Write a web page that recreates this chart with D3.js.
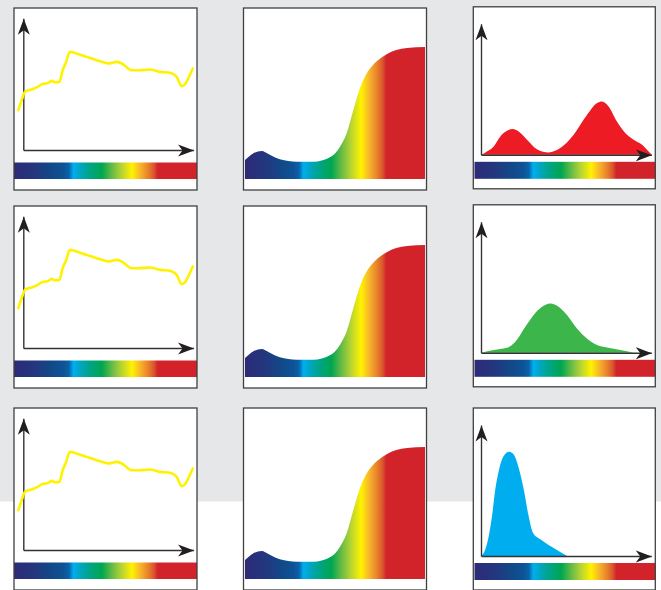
<!DOCTYPE html>
<html><head><meta charset="utf-8">
<script src="https://cdn.jsdelivr.net/npm/d3@7"></script>
<style>html,body{margin:0;padding:0;background:#fff;} svg{display:block;}</style>
</head><body>
<script>
// ---- data (x: position along the spectrum 0..100, y: relative intensity 0..100) ----
const sourceX = [2.35, 4.2, 6.0, 9.7, 12.4, 15.1, 18.7, 20.6, 22.4, 24.8, 26.6, 28.3, 30.6, 33.3, 39.7, 47.0, 51.5, 56.1, 58.9, 64.3, 68.9, 74.3, 79.8, 85.2, 88.9, 91.6, 93.4, 95.2, 97.7];
const sourceY = [30.3, 37.9, 44.2, 46.0, 47.5, 49.8, 51.0, 52.5, 51.5, 51.7, 60.6, 66.1, 74.5, 73.7, 70.7, 67.4, 65.7, 66.9, 65.7, 60.6, 60.6, 61.1, 59.3, 58.6, 55.5, 48.5, 49.8, 54.3, 61.9];

const responseX = [0, 4.5, 9.3, 13, 19.4, 28.7, 38, 47.2, 52.8, 56.5, 60.2, 63.9, 67.6, 70.5, 73.5, 78.7, 84, 90, 100];
const responseY = [14.5, 19.5, 21.4, 19.1, 15.0, 13.2, 13.2, 16.6, 24.7, 34.9, 52.7, 69.5, 80.5, 86.0, 90.2, 95.3, 98.4, 100, 100.8];

const redX = [3.9, 7.0, 10.7, 14.4, 18.1, 21.2, 24.5, 29.1, 34.6, 41.1, 47.5, 54.9, 62.3, 67.8, 70.5, 74.2, 78.8, 83.4, 88.0, 92.7, 96.3, 98.2];
const redY = [0, 2.5, 6.3, 14, 18.3, 19.6, 17.8, 11.5, 4.3, 1.8, 5.1, 15.3, 30.5, 39.5, 40.7, 36.9, 25.4, 16.6, 11.5, 7.6, 2.5, 0];

const greenX = [3.9, 10.7, 18.1, 22.7, 28.2, 32.8, 37.4, 42.0, 46.6, 51.2, 56.7, 62.2, 67.8, 73.3, 80.7, 88.0];
const greenY = [0, 2.1, 3.8, 8.4, 19.8, 28.8, 35.1, 37.6, 35.1, 28.8, 18.5, 10.9, 5.9, 4.0, 2.1, 0];

const blueX = [3.9, 6.1, 8.0, 9.8, 11.6, 13.5, 16.2, 19.3, 21.7, 24.5, 27.3, 30.0, 32.4, 36.5, 42.0, 47.5, 51.2];
const blueY = [0, 5.1, 15.3, 30.5, 50.9, 64.9, 76.3, 79.6, 77.6, 67.4, 50.9, 30.5, 17.8, 12.7, 7.6, 3.1, 0];

const rowSeries = [[redX, redY], [greenX, greenY], [blueX, blueY]];
const rowColors = ["#ed1c24", "#3cb54a", "#00aeef"];

const spectrumOffsets = [0, 0.12, 0.2, 0.27, 0.3, 0.325, 0.36, 0.41, 0.48, 0.54, 0.59, 0.645, 0.69, 0.735, 0.765, 0.785, 1];
const spectrumColors = ["#2e2a77", "#22387f", "#124888", "#0d5396", "#0a62a8", "#00aeef", "#00a6c4", "#00a48a", "#00a651", "#6dbd45", "#b9d531", "#fff200", "#f7b52b", "#e8802a", "#d9552d", "#d2232a", "#d2232a"];

// ---- layout ----
const W = 661, H = 590;
const colX0 = [14, 243.5, 473.3];
const rowY0 = [8, 206, 408];
const boxW = [183, 183, 182], boxH = 182;

const svg = d3.select("body").append("svg").attr("width", W).attr("height", H);
svg.append("rect").attr("width", W).attr("height", 501.5).attr("fill", "#e6e7e8");

const defs = svg.append("defs");
const grad = defs.append("linearGradient").attr("id", "spec").attr("x1", 0).attr("x2", 1).attr("y1", 0).attr("y2", 0);
spectrumOffsets.forEach((o, i) => grad.append("stop").attr("offset", o).attr("stop-color", spectrumColors[i]));

defs.append("marker").attr("id", "arrow")
  .attr("markerUnits", "userSpaceOnUse")
  .attr("viewBox", "0 -7 17 14").attr("markerWidth", 17).attr("markerHeight", 14)
  .attr("refX", 16).attr("refY", 0).attr("orient", "auto")
  .append("path").attr("d", "M0,-6L16,0L0,6L4.5,0Z").attr("fill", "#231f20");

function styleAxis(s) {
  s.select(".domain").attr("stroke", "#333").attr("stroke-width", 1.4).attr("marker-end", "url(#arrow)");
}

function drawAxes(g, xs, ys, ox, tipX) {
  const oy = ys(0);
  const ax = d3.scaleLinear().domain([xs.invert(ox), xs.invert(tipX)]).range([ox, tipX]);
  g.append("g").attr("transform", `translate(0,${oy})`)
    .call(d3.axisBottom(ax).tickValues([]).tickSizeOuter(0)).call(styleAxis);
  g.append("g").attr("transform", `translate(${ox},0)`)
    .call(d3.axisLeft(ys).tickValues([]).tickSizeOuter(0)).call(styleAxis);
}

rowY0.forEach((y0r, r) => {
  colX0.forEach((x0, c) => {
    const y0 = c === 2 && r < 2 ? y0r - 1.2 : y0r;
    const w = boxW[c];
    const g = svg.append("g");
    g.append("rect").attr("x", x0).attr("y", y0).attr("width", w).attr("height", boxH).attr("fill", "#fff");

    if (c === 0) {
      const xs = d3.scaleLinear().domain([0, 100]).range([x0, x0 + w]);
      const ys = d3.scaleLinear().domain([0, 100]).range([y0 + 142, y0 + 10.3]);
      g.append("rect").attr("x", x0).attr("y", y0 + 154.5).attr("width", w).attr("height", 16.5).attr("fill", "url(#spec)");
      drawAxes(g, xs, ys, x0 + 9.3, x0 + 179.5);
      const line = d3.line().x((d, i) => xs(sourceX[i])).y(d => ys(d)).curve(d3.curveMonotoneX);
      g.append("path").attr("d", line(sourceY)).attr("fill", "none").attr("stroke", "#fff200")
        .attr("stroke-width", 2.6).attr("stroke-linejoin", "round").attr("stroke-linecap", "round");
    } else if (c === 1) {
      const xs = d3.scaleLinear().domain([0, 100]).range([x0 + 1.5, x0 + 181.5]);
      const ys = d3.scaleLinear().domain([0, 100]).range([y0 + 171, y0 + 40]);
      const area = d3.area().x((d, i) => xs(responseX[i])).y0(ys(0)).y1(d => ys(d)).curve(d3.curveMonotoneX);
      g.append("path").attr("d", area(responseY)).attr("fill", "url(#spec)");
    } else {
      const xs = d3.scaleLinear().domain([0, 100]).range([x0 + 1, x0 + 182]);
      const ys = d3.scaleLinear().domain([0, 100]).range([y0 + 148, y0 + 17]);
      g.append("rect").attr("x", x0 + 1.2).attr("y", y0 + 155).attr("width", w - 1.2).attr("height", 17).attr("fill", "url(#spec)");
      const [sx, sy] = rowSeries[r];
      const area = d3.area().x((d, i) => xs(sx[i])).y0(ys(0)).y1(d => ys(d)).curve(d3.curveMonotoneX);
      g.append("path").attr("d", area(sy)).attr("fill", rowColors[r]);
      drawAxes(g, xs, ys, x0 + 7.7, x0 + 178);
    }
    g.append("rect").attr("x", x0).attr("y", y0).attr("width", w).attr("height", boxH)
      .attr("fill", "none").attr("stroke", "#404040").attr("stroke-width", 1.3);
  });
});
</script>
</body></html>
